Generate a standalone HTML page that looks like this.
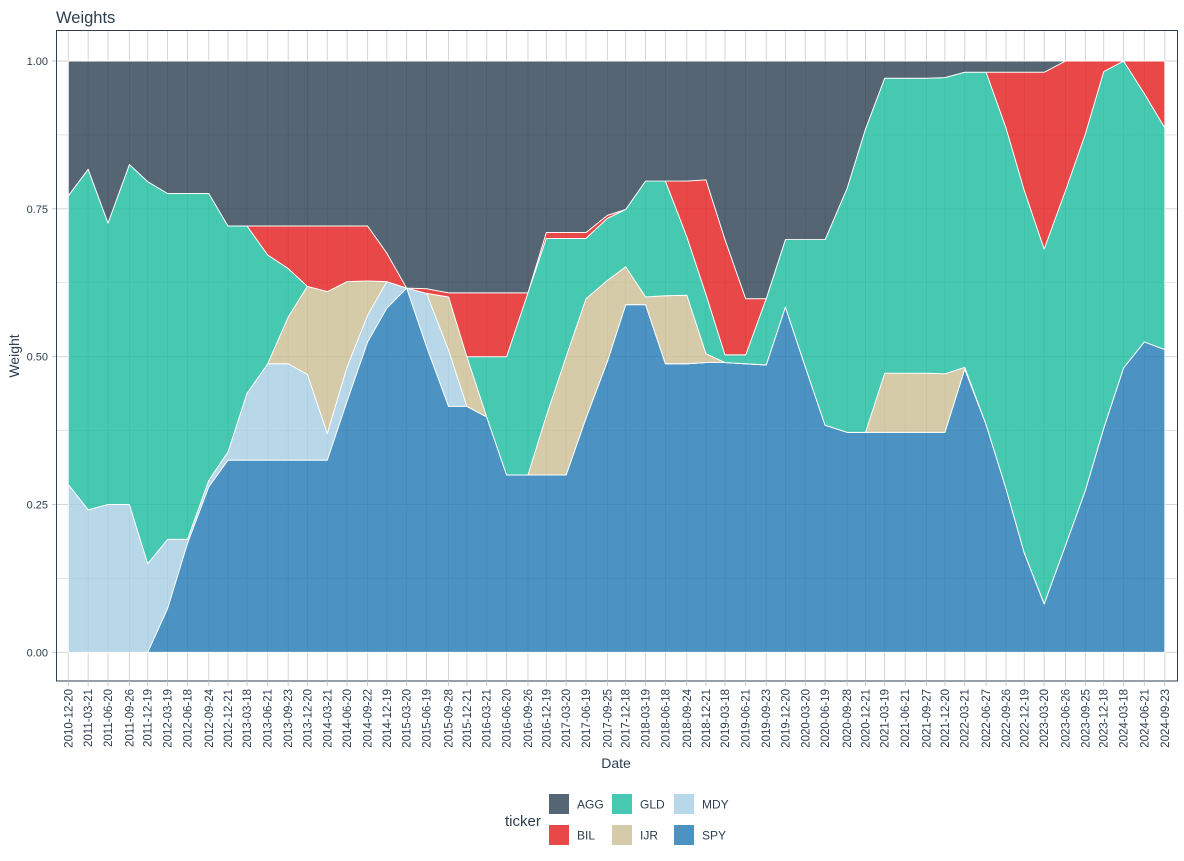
<!DOCTYPE html>
<html><head><meta charset="utf-8">
<style>
html,body{margin:0;padding:0;background:#fff;}
svg{display:block;font-family:"Liberation Sans",Arial,sans-serif;}
</style></head>
<body>
<svg id="chart" width="1184" height="861" viewBox="0 0 1184 861" xmlns="http://www.w3.org/2000/svg">
<text x="56" y="23" font-size="16.5" fill="#2c3e50">Weights</text>
<g id="grid"></g>
<g id="areas"></g>
<rect x="56.5" y="30.5" width="1121" height="650.5" fill="none" stroke="#2c3e50" stroke-width="1"/>
<g id="axes"></g>
<text transform="translate(19,356) rotate(-90)" text-anchor="middle" font-size="14" fill="#2c3e50">Weight</text>
<text x="616" y="768" text-anchor="middle" font-size="14" fill="#2c3e50">Date</text>
<g id="legend">
<text x="505" y="826" font-size="15" fill="#2c3e50">ticker</text>
</g>
</svg>
<script>
const dates = ["2010-12-20","2011-03-21","2011-06-20","2011-09-26","2011-12-19","2012-03-19","2012-06-18","2012-09-24","2012-12-21","2013-03-18","2013-06-21","2013-09-23","2013-12-20","2014-03-21","2014-06-20","2014-09-22","2014-12-19","2015-03-20","2015-06-19","2015-09-28","2015-12-21","2016-03-21","2016-06-20","2016-09-26","2016-12-19","2017-03-20","2017-06-19","2017-09-25","2017-12-18","2018-03-19","2018-06-18","2018-09-24","2018-12-21","2019-03-18","2019-06-21","2019-09-23","2019-12-20","2020-03-20","2020-06-19","2020-09-28","2020-12-21","2021-03-19","2021-06-21","2021-09-27","2021-12-20","2022-03-21","2022-06-27","2022-09-26","2022-12-19","2023-03-20","2023-06-26","2023-09-25","2023-12-18","2024-03-18","2024-06-21","2024-09-23"];
const tickers = ["SPY","MDY","IJR","GLD","BIL","AGG"];
const spy = [0,0,0,0,0,.074,.184,.28,.325,.325,.325,.325,.325,.325,.425,.525,.582,.616,.517,.416,.416,.398,.3,.3,.3,.3,.396,.492,.588,.588,.488,.488,.49,.49,.488,.486,.584,.483,.384,.372,.372,.372,.372,.372,.372,.479,.385,.277,.168,.082,.181,.274,.379,.481,.525,.512];
const mdy = [.284,.241,.25,.25,.15,.117,.007,.011,.014,.113,.163,.163,.145,.045,.058,.045,.045,0,.09,.095,0,0,0,0,0,0,0,0,0,0,0,0,0,0,0,0,0,0,0,0,0,0,0,0,0,0,0,0,0,0,0,0,0,0,0,0];
const ijr = [0,0,0,0,0,0,0,0,0,0,0,.079,.149,.24,.144,.058,0,0,0,.09,.084,0,0,0,.1,.2,.202,.137,.064,.013,.115,.116,.015,0,0,0,0,0,0,0,0,.1,.1,.1,.099,.003,0,0,0,0,0,0,0,0,0,0];
const gld = [.488,.576,.476,.575,.646,.585,.585,.485,.382,.283,.184,.082,0,0,0,0,0,0,0,0,0,.102,.2,.308,.3,.2,.102,.105,.097,.196,.194,.099,.1,.013,.015,.112,.114,.215,.314,.413,.513,.499,.499,.499,.501,.499,.596,.61,.613,.6,.6,.603,.603,.519,.42,.375];
const bil = [0,0,0,0,0,0,0,0,0,0,.049,.072,.102,.111,.094,.093,.048,0,.008,.007,.108,.108,.108,0,.01,.01,.01,.005,0,0,0,.094,.194,.195,.095,0,0,0,0,0,0,0,0,0,0,0,0,.094,.2,.299,.219,.123,.018,0,.055,.113];
const agg = [.228,.183,.274,.175,.204,.224,.224,.224,.279,.279,.279,.279,.279,.279,.279,.279,.325,.384,.385,.392,.392,.392,.392,.392,.29,.29,.29,.261,.251,.203,.203,.203,.201,.302,.402,.402,.302,.302,.302,.215,.115,.029,.029,.029,.028,.019,.019,.019,.019,.019,0,0,0,0,0,0];
const yTicks = [0,0.25,0.5,0.75,1];
const yTickLabels = ["0.00","0.25","0.50","0.75","1.00"];
const legendOrder = ["AGG","BIL","GLD","IJR","MDY","SPY"];

const colors = {SPY:"#1F78B4",MDY:"#A6CEE3",IJR:"#CCBE93",GLD:"#18BC9C",BIL:"#E31A1C",AGG:"#2C3E50"};
const series = {SPY:spy,MDY:mdy,IJR:ijr,GLD:gld,BIL:bil,AGG:agg};
const NS="http://www.w3.org/2000/svg";
const t0 = Date.parse(dates[0]), t1 = Date.parse(dates[dates.length-1]);
function xs(d){ return 68.3 + (Date.parse(d)-t0)/(t1-t0)*(1164.8-68.3); }
function ys(v){ return 652.3 - v*(652.3-61); }
function mk(tag, attrs, parent){ const e=document.createElementNS(NS,tag); for(const k in attrs) e.setAttribute(k,attrs[k]); parent.appendChild(e); return e; }

const grid=document.getElementById('grid');
for(let v=0; v<=1.0001; v+=0.125){
  const l=mk('line',{x1:57,x2:1177,y1:ys(v),y2:ys(v),stroke:"#d0d0d0","stroke-width":(Math.round(v*8)%2===0)?0.9:0.6},grid);
  
  
}
dates.forEach(d=>{
  const l=mk('line',{x1:xs(d),x2:xs(d),y1:31,y2:680,stroke:"#d0d0d0","stroke-width":0.9},grid);
  
  
});

const areas=document.getElementById('areas');
const cum = dates.map(()=>0);
tickers.forEach(tk=>{
  const vals=series[tk];
  const lower=cum.slice();
  const upper=cum.map((c,i)=>c+vals[i]);
  let pts=[];
  dates.forEach((d,i)=>pts.push(xs(d).toFixed(2)+","+ys(upper[i]).toFixed(2)));
  for(let i=dates.length-1;i>=0;i--) pts.push(xs(dates[i]).toFixed(2)+","+ys(lower[i]).toFixed(2));
  const p=mk('polygon',{points:pts.join(" "),fill:colors[tk],"fill-opacity":0.8,stroke:"#ffffff","stroke-width":0.9,"stroke-linejoin":"round"},areas);
  
  
  upper.forEach((u,i)=>cum[i]=u);
});

const axes=document.getElementById('axes');
yTicks.forEach((v,i)=>{
  const tm=mk('line',{x1:52,x2:56,y1:ys(v),y2:ys(v),stroke:"#c8c8c8","stroke-width":1},axes);
  
  
  const t=mk('text',{x:48,y:ys(v)+4,"text-anchor":"end","font-size":11,fill:"#2c3e50"},axes);
  t.textContent=yTickLabels[i];
  
  
});
dates.forEach(d=>{
  const x=xs(d);
  const tm=mk('line',{x1:x,x2:x,y1:681,y2:686,stroke:"#c8c8c8","stroke-width":1},axes);
  
  
  const t=mk('text',{transform:`translate(${(x+4).toFixed(2)},689) rotate(-90)`,"text-anchor":"end","font-size":11.5,fill:"#2c3e50"},axes);
  t.textContent=d;
  
  
});

const legend=document.getElementById('legend');
legendOrder.forEach((tk,i)=>{
  const col=Math.floor(i/2), row=i%2;
  const kx=[549,612,674][col], ky=[794,825][row];
  const r=mk('rect',{x:kx,y:ky,width:20,height:20,fill:colors[tk],"fill-opacity":0.8},legend);
  
  
  const t=mk('text',{x:kx+28,y:ky+14.5,"font-size":12,fill:"#2c3e50"},legend);
  t.textContent=tk;
  
  
});
</script>
</body></html>
